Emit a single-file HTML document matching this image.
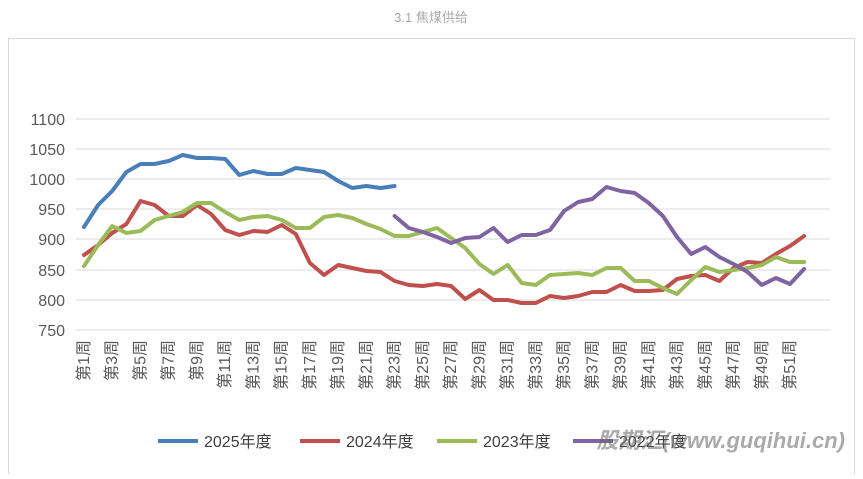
<!DOCTYPE html>
<html><head><meta charset="utf-8"><style>
body{margin:0;background:#fff;width:863px;height:474px;overflow:hidden;font-family:"Liberation Sans","Noto Sans CJK SC",sans-serif}
</style></head><body>
<svg width="863" height="474" xmlns="http://www.w3.org/2000/svg" font-family="Liberation Sans, Noto Sans CJK SC, sans-serif">
<text x="431" y="22" text-anchor="middle" font-size="13" fill="#aaa">3.1 焦煤供给</text>
<rect x="8.5" y="38.5" width="846" height="440" fill="none" stroke="#d9d9d9"/>
<g stroke="#d9d9d9" stroke-width="1">
<line x1="76" x2="830" y1="119" y2="119"/><line x1="76" x2="830" y1="149" y2="149"/><line x1="76" x2="830" y1="179" y2="179"/><line x1="76" x2="830" y1="209" y2="209"/><line x1="76" x2="830" y1="239" y2="239"/><line x1="76" x2="830" y1="270" y2="270"/><line x1="76" x2="830" y1="300" y2="300"/><line x1="76" x2="830" y1="330" y2="330"/>
</g>
<g font-size="16" fill="#595959" text-anchor="end">
<text x="65" y="125">1100</text><text x="65" y="155">1050</text><text x="65" y="185">1000</text><text x="65" y="215">950</text><text x="65" y="245">900</text><text x="65" y="276">850</text><text x="65" y="306">800</text><text x="65" y="336">750</text>
</g>
<g font-size="16" fill="#595959" text-anchor="end" id="xl"></g>
<g fill="none" stroke-width="4" stroke-linejoin="round" stroke-linecap="round" id="ln"></g>
<g font-size="16" fill="#404040">
<line x1="158" x2="198" y1="441" y2="441" stroke="#4a7ebb" stroke-width="4"/><text x="204" y="447">2025年度</text>
<line x1="300" x2="340" y1="441" y2="441" stroke="#c0504d" stroke-width="4"/><text x="346" y="447">2024年度</text>
<line x1="437" x2="477" y1="441" y2="441" stroke="#9bbb59" stroke-width="4"/><text x="483" y="447">2023年度</text>
<line x1="573" x2="613" y1="441" y2="441" stroke="#8064a2" stroke-width="4"/><text x="619" y="447">2022年度</text>
</g>
<text x="845" y="448" text-anchor="end" font-size="22" font-weight="bold" font-style="italic" fill="#666" opacity="0.55">股期汇(www.guqihui.cn)</text>
</svg>
<script>
const X=n=>84+(n-1)*14.12;
const s={"#4a7ebb":[1,[227,205,191,172,164,164,161,155,158,158,159,175,171,174,174,168,170,172,181,188,186,188,186]],
"#c0504d":[1,[255,245,233,224,201,205,216,216,205,214,230,235,231,232,225,234,263,275,265,268,271,272,281,285,286,284,286,299,290,300,300,303,303,296,298,296,292,292,285,291,291,290,279,276,275,281,268,262,263,254,246,236]],
"#9bbb59":[1,[266,245,226,233,231,220,216,212,203,203,212,220,217,216,220,228,228,217,215,218,224,229,236,236,232,228,238,248,264,274,265,283,285,275,274,273,275,268,268,281,281,288,294,280,267,272,270,268,265,257,262,262]],
"#8064a2":[23,[216,228,232,237,243,238,237,228,242,235,235,230,211,202,199,187,191,193,203,216,237,254,247,257,264,272,285,278,284,269]]};
let h="";for(const c in s){const[st,a]=s[c];h+=`<polyline stroke="${c}" points="${a.map((y,i)=>X(st+i).toFixed(1)+','+y).join(' ')}"/>`;}
document.getElementById('ln').innerHTML=h;
let t="";for(let n=1;n<=52;n+=2){const x=X(n)+5;t+=`<text transform="translate(${x.toFixed(1)},340) rotate(-90)">第${n}周</text>`;}
document.getElementById('xl').innerHTML=t;
</script>
</body></html>
